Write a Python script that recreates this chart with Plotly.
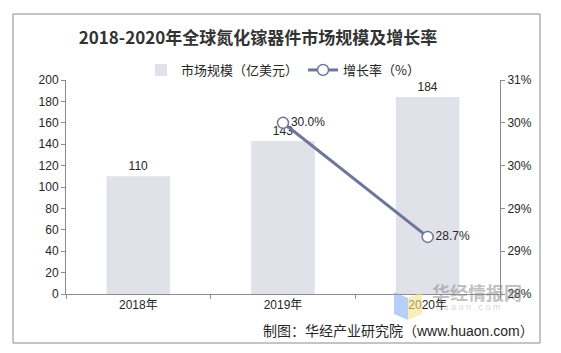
import plotly.graph_objects as go

years = ["2018年", "2019年", "2020年"]
market = [110, 143, 184]
market_labels = ["110", "143", "184"]
rate = [30.4, 28.8]          # plotted positions
rate_labels = ["30.0%", "28.7%"]
rate_years = ["2019年", "2020年"]
rate_ticks = [28.0, 28.6, 29.2, 29.8, 30.4, 31.0]
rate_ticktext = ["28%", "29%", "29%", "30%", "30%", "31%"]

FONT = "Liberation Sans, Arial, Noto Sans CJK SC, sans-serif"
TXT = "#262626"
AX = "#8c8c8c"

def px_x(px):
    return (px - 66) / 434

def px_y(py):
    return (294 - py) / 214

fig = go.Figure()
fig.add_trace(go.Bar(
    x=years, y=market, name="市场规模（亿美元）",
    marker=dict(color="#e1e2e9", line=dict(width=0)),
    text=market_labels, textposition="outside", cliponaxis=False,
    textfont=dict(size=12, color=TXT, family=FONT),
))
fig.add_trace(go.Scatter(
    x=rate_years, y=rate, name="增长率（%）", yaxis="y2",
    mode="lines+markers+text",
    line=dict(color="#6c7799", width=3),
    marker=dict(size=11, color="white", line=dict(color="#6c7799", width=1.5)),
    text=rate_labels, textposition="middle right",
    textfont=dict(size=12, color=TXT, family=FONT), cliponaxis=False,
))

fig.update_layout(
    width=561, height=353,
    margin=dict(l=66, r=61, t=80, b=59),
    paper_bgcolor="white", plot_bgcolor="white",
    font=dict(family=FONT, size=12, color=TXT),
    bargap=0.56,
    showlegend=True,
    legend=dict(orientation="h", x=0.5, xanchor="center", y=px_y(70), yanchor="middle",
                font=dict(size=13, color=TXT, family="Noto Sans CJK SC, sans-serif"),
                itemwidth=30, bgcolor="rgba(0,0,0,0)"),
    title=dict(text="<b>2018-2020年全球氮化镓器件市场规模及增长率</b>",
               x=(258 / 561), xanchor="center", y=1 - 38 / 353, yanchor="middle",
               font=dict(size=17, color="#333333", family="Noto Sans CJK SC, serif")),
    xaxis=dict(showline=True, linecolor=AX, linewidth=1, ticks="outside",
               tickson="boundaries", ticklen=4, tickcolor=AX,
               tickfont=dict(size=12, color=TXT), showgrid=False),
    yaxis=dict(range=[0, 200], dtick=20, showline=True, linecolor=AX, linewidth=1,
               ticks="outside", ticklen=4, tickcolor=AX, showgrid=False,
               zeroline=False, tickfont=dict(size=12, color=TXT)),
    yaxis2=dict(overlaying="y", side="right", range=[28, 31],
                tickvals=rate_ticks, ticktext=rate_ticktext,
                showline=True, linecolor=AX, linewidth=1, ticks="outside",
                ticklen=4, tickcolor=AX, showgrid=False, zeroline=False,
                tickfont=dict(size=12, color=TXT)),
)

# outer frame
fig.add_shape(type="rect", xref="paper", yref="paper",
              x0=px_x(13), x1=px_x(540), y0=px_y(343), y1=px_y(14),
              line=dict(color="#8a8a8a", width=1), fillcolor="rgba(0,0,0,0)", layer="below")

# watermark logo blocks
fig.add_shape(type="path", xref="paper", yref="paper",
              path=f"M {px_x(394)} {px_y(292)} L {px_x(408)} {px_y(298)} L {px_x(408)} {px_y(320)} L {px_x(394)} {px_y(314)} Z",
              fillcolor="rgba(120,170,235,0.55)", line=dict(width=0))
fig.add_shape(type="path", xref="paper", yref="paper",
              path=f"M {px_x(408)} {px_y(298)} L {px_x(422)} {px_y(292)} L {px_x(422)} {px_y(314)} L {px_x(408)} {px_y(320)} Z",
              fillcolor="rgba(245,225,140,0.6)", line=dict(width=0))
fig.add_annotation(text="<b>华经情报网</b>", xref="paper", yref="paper",
                   x=px_x(430), y=px_y(292), xanchor="left", yanchor="middle",
                   showarrow=False, font=dict(size=18, color="rgba(140,140,140,0.55)",
                                              family="Noto Sans CJK SC"))
fig.add_annotation(text="h u a o n . c o m", xref="paper", yref="paper",
                   x=px_x(434), y=px_y(307), xanchor="left", yanchor="middle",
                   showarrow=False, font=dict(size=9, color="rgba(170,170,170,0.5)"))

# source
fig.add_annotation(text="制图：华经产业研究院（www.huaon.com）", xref="paper", yref="paper",
                   x=px_x(536), y=px_y(331), xanchor="right", yanchor="middle",
                   showarrow=False, font=dict(size=14, color=TXT,
                                              family="Liberation Sans, Noto Sans CJK SC"))

fig.write_html("out.html")
